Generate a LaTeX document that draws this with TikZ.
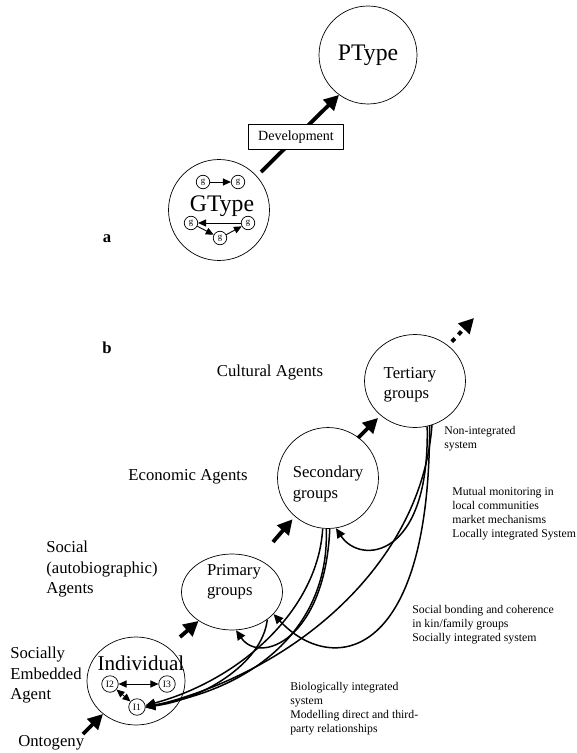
\documentclass[tikz,border=0pt]{standalone}
\usepackage{fontspec}
\setmainfont{Liberation Serif}
\usetikzlibrary{arrows.meta,shapes.geometric}

\begin{document}
\begin{tikzpicture}[x=0.02cm, y=-0.02cm, line join=round,
    grp/.style={draw, ellipse, inner sep=0pt},
    grptxt/.style={align=left, inner sep=0pt, font=\fontsize{9.5}{11.5}\selectfont},
    gene/.style={draw, circle, inner sep=0pt, minimum size=0.27cm, font=\fontsize{5}{5}\selectfont},
    agent/.style={align=left, inner sep=0pt, font=\fontsize{9.5}{11.6}\selectfont},
    note/.style={align=left, inner sep=0pt, anchor=north west, font=\fontsize{6.7}{8}\selectfont},
    part/.style={inner sep=0pt, font=\bfseries\fontsize{9.5}{11}\selectfont},
    fat/.style={line width=2.2pt, -{Triangle[length=8.5pt,width=8.5pt]}},
    tiny/.style={line width=0.5pt, -{Triangle[length=4.5pt,width=4pt]}},
    both/.style={line width=0.5pt, {Triangle[length=4.5pt,width=4pt]}-{Triangle[length=4.5pt,width=4pt]}},
    link/.style={line width=0.85pt, -{Triangle[length=5.5pt,width=5pt]}}]
\useasboundingbox (0,0) rectangle (577,753);

%% (a) genotype and phenotype
\node[draw, circle, inner sep=0pt, minimum size=1.96cm, font=\fontsize{13.5}{16}\selectfont] (ptype) at (368,55) {PType};
\node[draw, circle, minimum size=2.02cm] (gtype) at (219,210) {};
\node[inner sep=0pt, font=\fontsize{13.5}{16}\selectfont] (gtypetxt) at (222,206) {GType};
\foreach \n/\x/\y in {g1/203/182, g2/238/182, g3/191/223, g4/248/223, g5/220/238}
  \node[gene] (\n) at (\x,\y) {g};
\draw[tiny] (g1) -- (g2);
\draw[tiny] (g4) -- (g3);
\draw[tiny] (g3) -- (g5);
\draw[tiny] (g5) -- (g4);
\coordinate (devtail) at (261,172);
\draw[fat] (devtail) -- (ptype.234);
\node[draw, fill=white, minimum width=1.9cm, minimum height=0.5cm, inner sep=1pt, font=\fontsize{8}{10}\selectfont] (dev) at (296,137) {Development};
\node[part] (parta) at (107,239) {a};

%% (b) levels of agency
\node[part] (partb) at (107,348) {b};
\node[grp, minimum width=2.02cm, minimum height=1.86cm] (tert) at (415,381) {};
\node[grp, minimum size=2.02cm] (sec) at (328,478) {};
\node[grp, minimum width=2.02cm, minimum height=1.52cm] (prim) at (232,592) {};
\node[grp, minimum width=1.96cm, minimum height=1.76cm] (indiv) at (136,681) {};
\node[grptxt] (terttxt) at (410,385) {Tertiary\\groups};
\node[grptxt] (sectxt) at (328,484) {Secondary\\groups};
\node[grptxt] (primtxt) at (234,582) {Primary\\groups};
\node[inner sep=0pt, font=\fontsize{12}{14}\selectfont] (indivtxt) at (141,663) {Individual};
\foreach \k/\x/\y in {1/137/707, 2/110/684, 3/167/684}
  \node[gene, minimum size=0.33cm, font=\fontsize{5.5}{6}\selectfont] (i\k) at (\x,\y) {I\k};
\draw[both] (i2) -- (i3);
\draw[both] (i2) -- (i1);

% growth
\coordinate (ontotail) at (83,734);
\coordinate (indivtail) at (180,637);
\coordinate (primtail) at (273,542);
\coordinate (sectail) at (358,438);
\coordinate (onward) at (474,318);
\draw[fat] (ontotail) -- (indiv);
\draw[fat] (indivtail) -- (prim);
\draw[fat, shorten >=2pt] (primtail) -- (sec);
\draw[fat, shorten >=2pt] (sectail) -- (tert);
\draw[fat, dash pattern=on 2.5pt off 3pt, shorten <=3pt] (tert) -- (onward);

% feedback from the groups
\draw[link] (prim.322) .. controls (262,665) and (200,700) .. (i1.east);
\draw[link] (sec.264) .. controls (318,610) and (240,680) .. (i1.10);
\draw[link] (sec.268) .. controls (330,630) and (250,690) .. (i1.5);
\draw[link] (tert.291) .. controls (422,560) and (300,670) .. (i1.355);
\draw[link] (tert.285) .. controls (430,560) and (360,565) .. (sec.279);
\draw[link] (tert.288) .. controls (430,665) and (330,675) .. (prim.332);
\draw[link] (sec.272) .. controls (325,640) and (260,665) .. (prim.276);

% labels
\node[agent] (cult) at (270,373) {Cultural Agents};
\node[agent] (econ) at (188,477) {Economic Agents};
\node[agent, anchor=north west] (soc) at (46,541) {Social\\(autobiographic)\\Agents};
\node[agent, anchor=north west] (emb) at (10,647) {Socially\\Embedded\\Agent};
\node[agent, anchor=north west] (onto) at (18,735) {Ontogeny};
\node[note] (nonint) at (444,426) {Non-integrated\\system};
\node[note] (locint) at (452,487) {Mutual monitoring in\\local communities\\market mechanisms\\Locally integrated System};
\node[note] (socint) at (412,605) {Social bonding and coherence\\in kin/family groups\\Socially integrated system};
\node[note] (bioint) at (290,682) {Biologically integrated\\system\\Modelling direct and third-\\party relationships};
\end{tikzpicture}
\end{document}
